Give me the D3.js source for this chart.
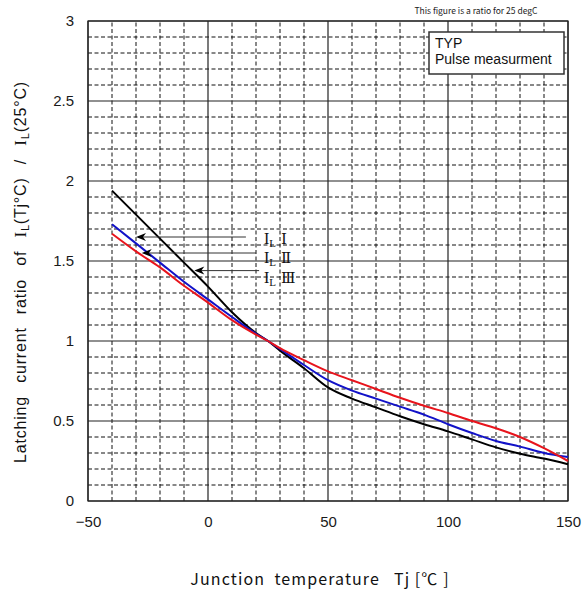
<!DOCTYPE html>
<html><head><meta charset="utf-8">
<script src="https://cdn.jsdelivr.net/npm/d3@7"></script>
<style>
body{margin:0;background:#fff;}
svg{display:block;}
</style></head>
<body>
<svg id="chart" width="586" height="594"></svg>
<script>
// ---- data ----
const temps   = [-40,-30,-20,-10,0,10,20,25,30,40,50,60,70,80,90,100,110,120,130,140,150];
const ratioI   = [1.73,1.61,1.49,1.37,1.26,1.15,1.045,1.0,0.95,0.85,0.755,0.69,0.64,0.59,0.54,0.48,0.425,0.375,0.34,0.30,0.275]; // blue
const ratioII  = [1.67,1.56,1.46,1.345,1.24,1.13,1.04,1.0,0.955,0.88,0.81,0.755,0.70,0.645,0.595,0.55,0.50,0.455,0.40,0.33,0.25]; // red
const ratioIII = [1.94,1.79,1.64,1.49,1.34,1.18,1.05,1.0,0.94,0.83,0.71,0.64,0.585,0.53,0.48,0.435,0.385,0.335,0.295,0.265,0.23]; // black
const xMajorTicks = [-50,0,50,100,150];
const yMajorTicks = [0,0.5,1,1.5,2,2.5,3];
const seriesNames = ["Ⅰ","Ⅱ","Ⅲ"];
// annotation anchors (data units): arrow tip, line end
const arrowTips = [[-30,1.65],[-27.6,1.55],[-5.7,1.44]];
const arrowEnds = [15.8,20,21.3];

// ---- layout ----
const svg = d3.select("#chart");
const x = d3.scaleLinear().domain([-50,150]).range([88,568]);
const y = d3.scaleLinear().domain([0,3]).range([501,21]);

// minor grid
const minorX = d3.range(-50,151,10).filter(v=>!xMajorTicks.includes(v));
const minorY = d3.range(1,30).map(v=>v/10).filter(v=>Math.abs(v*2-Math.round(v*2))>1e-6);
const g = svg.append("g");
g.selectAll(".mx").data(minorX).enter().append("line")
  .attr("x1",d=>x(d)).attr("x2",d=>x(d)).attr("y1",y(0)).attr("y2",y(3))
  .attr("stroke","#111").attr("stroke-width",1).attr("stroke-dasharray","4,2.5");
g.selectAll(".my").data(minorY).enter().append("line")
  .attr("x1",x(-50)).attr("x2",x(150)).attr("y1",d=>y(d)).attr("y2",d=>y(d))
  .attr("stroke","#111").attr("stroke-width",1).attr("stroke-dasharray","4,2.5");
// major grid
g.selectAll(".Mx").data(xMajorTicks).enter().append("line")
  .attr("x1",d=>x(d)).attr("x2",d=>x(d)).attr("y1",y(0)).attr("y2",y(3))
  .attr("stroke","#222").attr("stroke-width",1.2);
g.selectAll(".My").data(yMajorTicks).enter().append("line")
  .attr("x1",x(-50)).attr("x2",x(150)).attr("y1",d=>y(d)).attr("y2",d=>y(d))
  .attr("stroke","#222").attr("stroke-width",1.2);
g.append("rect").attr("x",x(-50)).attr("y",y(3)).attr("width",x(150)-x(-50)).attr("height",y(0)-y(3))
  .attr("fill","none").attr("stroke","#222").attr("stroke-width",1.2);

// axes
const fmt = d3.format("~g");
const xAxis = svg.append("g").attr("transform",`translate(0,${y(0)})`)
  .call(d3.axisBottom(x).tickValues(xMajorTicks).tickFormat(fmt).tickSize(0).tickPadding(15));
const yAxis = svg.append("g").attr("transform",`translate(${x(-50)},0)`)
  .call(d3.axisLeft(y).tickValues(yMajorTicks).tickFormat(fmt).tickSize(0).tickPadding(14));
[xAxis,yAxis].forEach(a=>{
  a.select(".domain").remove();
  a.selectAll("text").attr("font-family","Liberation Sans, Arial, sans-serif")
    .attr("font-size",15).attr("fill","#1a1a1a");
});

// curves
const line = d3.line().x((d,i)=>x(temps[i])).y(d=>y(d)).curve(d3.curveMonotoneX);
const series = [[ratioIII,"#000000"],[ratioI,"#1212c8"],[ratioII,"#e8141c"]];
svg.selectAll(".curve").data(series).enter().append("path")
  .attr("d",d=>line(d[0])).attr("fill","none").attr("stroke",d=>d[1]).attr("stroke-width",2);

// annotations
const ann = svg.append("g");
arrowTips.forEach((t,i)=>{
  const tx=x(t[0]), ty=y(t[1]), ex=x(arrowEnds[i]);
  ann.append("line").attr("x1",tx+2).attr("x2",ex).attr("y1",ty).attr("y2",ty)
    .attr("stroke","#333").attr("stroke-width",1);
  ann.append("path").attr("d",`M${tx},${ty} L${tx+10},${ty-4} L${tx+7},${ty} L${tx+10},${ty+4} Z`)
    .attr("fill","#000");
});
const labelYs = [244,263,283];
seriesNames.forEach((n,i)=>{
  const t = ann.append("text").attr("x",264).attr("y",labelYs[i])
    .attr("font-family","Liberation Serif, Times New Roman, serif").attr("font-size",16).attr("fill","#111");
  t.append("tspan").text("I");
  t.append("tspan").attr("font-size",11).attr("dy",3).text("L");
  t.append("tspan").attr("dy",-3).attr("dx",5).attr("font-family","DejaVu Serif, serif").attr("font-size",15).text(n);
});

// legend box
svg.append("rect").attr("x",429).attr("y",32).attr("width",135).attr("height",42)
  .attr("fill","#fff").attr("stroke","#333").attr("stroke-width",1.5);
svg.append("text").attr("x",435).attr("y",48).text("TYP")
  .attr("font-family","Liberation Sans, Arial, sans-serif").attr("font-size",14).attr("fill","#111");
svg.append("text").attr("x",435).attr("y",64).text("Pulse measurment")
  .attr("font-family","Liberation Sans, Arial, sans-serif").attr("font-size",14).attr("fill","#111");

// small title
svg.append("text").attr("x",476).attr("y",14).attr("text-anchor","middle")
  .text("This figure is a ratio for 25 degC")
  .attr("font-family","Noto Sans CJK JP, sans-serif").attr("font-size",8.5).attr("fill","#222");

// x title
svg.append("text").attr("x",320).attr("y",585).attr("text-anchor","middle")
  .attr("font-family","Noto Sans CJK JP, sans-serif").attr("font-size",16).attr("fill","#111")
  .attr("letter-spacing",1.1).attr("xml:space","preserve")
  .text("Junction  temperature   Tj [℃ ]");

// y title
const yt = svg.append("text").attr("transform","translate(26,272) rotate(-90)")
  .attr("text-anchor","middle").attr("font-family","Liberation Sans, Arial, sans-serif")
  .attr("font-size",16).attr("fill","#111").attr("word-spacing",8).attr("letter-spacing",0.8);
yt.append("tspan").text("Latching current ratio of ");
yt.append("tspan").attr("font-family","Liberation Serif, serif").attr("font-size",17).text("I");
yt.append("tspan").attr("font-size",11).attr("dy",3).text("L");
yt.append("tspan").attr("dy",-3).text("(Tj°C) / ");
yt.append("tspan").attr("font-family","Liberation Serif, serif").attr("font-size",17).text("I");
yt.append("tspan").attr("font-size",11).attr("dy",3).text("L");
yt.append("tspan").attr("dy",-3).text("(25°C)");
</script>
</body></html>
